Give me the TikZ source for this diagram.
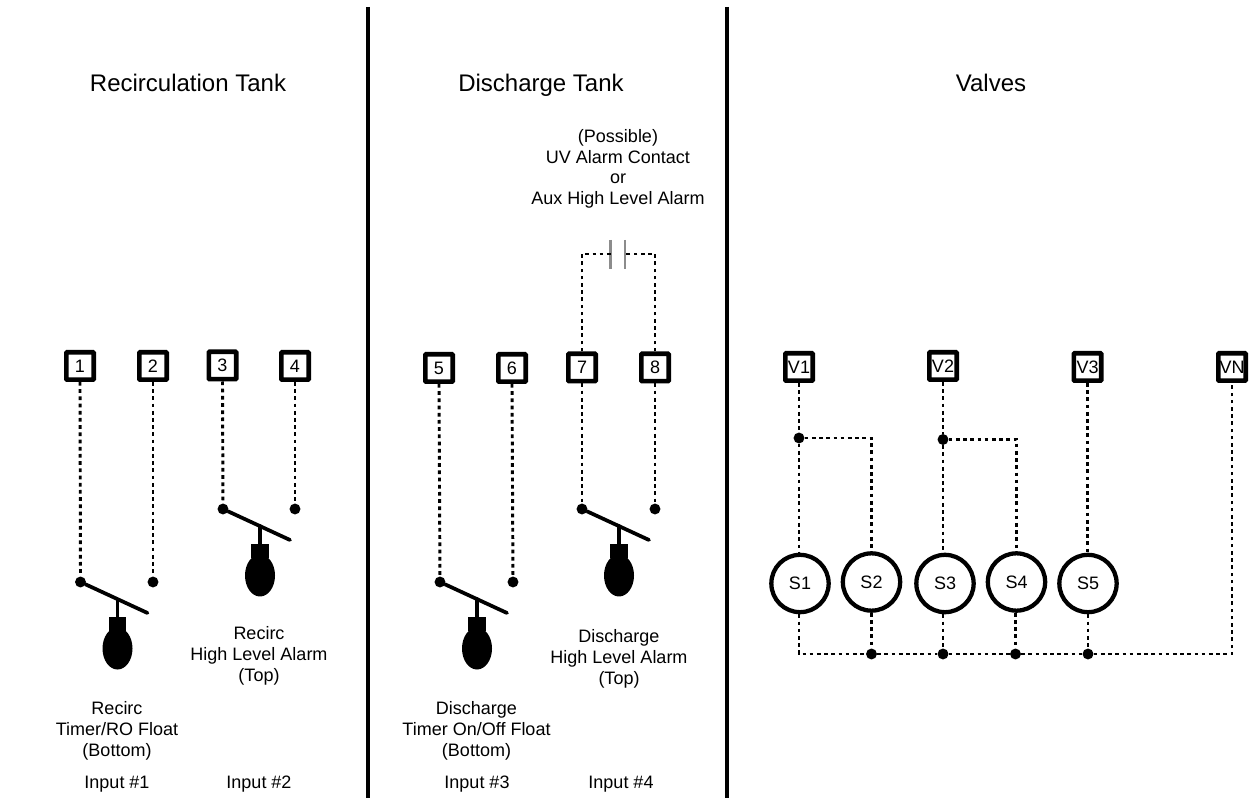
\documentclass[tikz,border=0pt]{standalone}
\usepackage{fontspec}
\setmainfont{Liberation Sans}
\usetikzlibrary{shapes.geometric}
\tikzset{
  x=0.75pt,y=-0.75pt,
  term/.style={draw,line width=3.4pt,fill=white,minimum size=20.6pt,inner sep=0pt,rounded corners=0.6pt,font=\fontsize{13.5}{15.5}\selectfont},
  sol/.style={circle,draw,line width=3.2pt,fill=white,minimum size=43pt,inner sep=0pt,font=\fontsize{13.5}{15.5}\selectfont},
  wire/.style={line width=2.2pt,dash pattern=on 2.8pt off 2.6pt},
  dotn/.style={circle,fill=black,minimum size=8.2pt,inner sep=0pt},
  divider/.style={line width=3pt},
  lever/.style={line width=2.8pt,line cap=round},
  plate/.style={line width=1.6pt,draw=black!45},
  title/.style={font=\fontsize{18}{21}\selectfont,anchor=base,inner sep=0pt},
  lab/.style={font=\fontsize{13.5}{15.5}\selectfont,align=center,inner sep=0pt},
  bulb/.style={ellipse,fill=black,minimum width=22.5pt,minimum height=31.5pt,inner sep=0pt},
  bulbcap/.style={rectangle,fill=black,minimum width=13pt,minimum height=10pt,inner sep=0pt},
}
% #1 name prefix, #2 pivot x, #3 pivot y
\newcommand{\floatswitch}[3]{%
  \coordinate (#1end) at ({#2+67},{#3+31});
  \coordinate (#1mid) at ({#2+37},{#3+17});
  \node[bulb] (#1bulb) at ({#2+37},{#3+66.5}) {};
  \node[bulbcap] (#1cap) at ({#2+37},{#3+42}) {};
  \draw[lever] (#1a) -- (#1end);
  \draw[lever] (#1mid) -- (#1cap.north);
}
\begin{document}
\begin{tikzpicture}
\useasboundingbox (0,0) rectangle (1254,798);
% dividers
\coordinate (d1t) at (367.5,7); \coordinate (d1b) at (367.5,798);
\coordinate (d2t) at (727,7); \coordinate (d2b) at (727,798);
\draw[divider] (d1t) -- (d1b);
\draw[divider] (d2t) -- (d2b);
% titles
\node[title] (t1) at (188,92) {Recirculation Tank};
\node[title] (t2) at (541,92) {Discharge Tank};
\node[title] (t3) at (991,92) {Valves};
\node[lab] (uv) at (618,169) {(Possible)\\UV Alarm Contact\\or\\Aux High Level Alarm};
% terminals
\node[term] (n1) at (80,366) {1};
\node[term] (n2) at (153,366) {2};
\node[term] (n3) at (222.5,365.5) {3};
\node[term] (n4) at (295,366) {4};
\node[term] (n5) at (439,368) {5};
\node[term] (n6) at (512,368) {6};
\node[term] (n7) at (582,367.5) {7};
\node[term] (n8) at (655,367.5) {8};
\node[term] (v1) at (799,367) {V1};
\node[term] (v2) at (943,366) {V2};
\node[term] (v3) at (1087.5,367) {V3};
\node[term] (vn) at (1232,367) {VN};
% switch contacts
\node[dotn] (sw1a) at (80.5,582) {};
\node[dotn] (sw1b) at (153,582) {};
\node[dotn] (sw2a) at (223,509) {};
\node[dotn] (sw2b) at (295,509) {};
\node[dotn] (sw3a) at (440,582) {};
\node[dotn] (sw3b) at (513,582) {};
\node[dotn] (sw4a) at (582,509) {};
\node[dotn] (sw4b) at (655,509) {};
\draw[wire] (n1.south) -- (sw1a);
\draw[wire] (n2.south) -- (sw1b);
\draw[wire] (n3.south) -- (sw2a);
\draw[wire] (n4.south) -- (sw2b);
\draw[wire] (n5.south) -- (sw3a);
\draw[wire] (n6.south) -- (sw3b);
\draw[wire] (n7.south) -- (sw4a);
\draw[wire] (n8.south) -- (sw4b);
\floatswitch{sw1}{80.5}{582}
\floatswitch{sw2}{223}{509}
\floatswitch{sw3}{440}{582}
\floatswitch{sw4}{582}{509}
% contact
\coordinate (p1t) at (610.5,240); \coordinate (p1b) at (610.5,269);
\coordinate (p2t) at (625,240); \coordinate (p2b) at (625,269);
\draw[plate] (p1t) -- (p1b);
\draw[plate] (p2t) -- (p2b);
\draw[wire] (n7.north) |- (p1t |- 0,254);
\draw[wire] (n8.north) |- (p2t |- 0,254);
% labels
\node[lab] (l1) at (117,731) {Recirc\\Timer/RO Float\\(Bottom)};
\node[lab] (l2) at (259,656) {Recirc\\High Level Alarm\\(Top)};
\node[lab] (l3) at (476.5,731) {Discharge\\Timer On/Off Float\\(Bottom)};
\node[lab] (l4) at (619,659) {Discharge\\High Level Alarm\\(Top)};
\node[lab] (i1) at (117,784) {Input \#1};
\node[lab] (i2) at (259,784) {Input \#2};
\node[lab] (i3) at (477,784) {Input \#3};
\node[lab] (i4) at (621,784) {Input \#4};
% solenoids
\node[sol] (s1) at (800,583.5) {S1};
\node[sol] (s2) at (871.5,582) {S2};
\node[sol] (s3) at (945,583.5) {S3};
\node[sol] (s4) at (1016.5,582) {S4};
\node[sol] (s5) at (1088,583.5) {S5};
\node[dotn] (j1) at (799,438) {};
\node[dotn] (j2) at (943,439.5) {};
\node[dotn] (b2) at (871.5,654) {};
\node[dotn] (b3) at (943,654) {};
\node[dotn] (b4) at (1015.5,654) {};
\node[dotn] (b5) at (1088,654) {};
\draw[wire] (v1.south) -- (j1);
\draw[wire] (j1) -- (j1 |- s1.north);
\draw[wire] (j1) -| (s2.north);
\draw[wire] (v2.south) -- (j2);
\draw[wire] (j2) -- (j2 |- s3.north);
\draw[wire] (j2) -| (s4.north);
\draw[wire] (v3.south) -- (v3 |- s5.north);
\draw[wire] (s1.south -| j1) |- (b2);
\draw[wire] (s2.south) -- (b2);
\draw[wire] (s3.south -| b3) -- (b3);
\draw[wire] (s4.south -| b4) -- (b4);
\draw[wire] (s5.south) -- (b5);
\draw[wire] (b2) -- (b3);
\draw[wire] (b3) -- (b4);
\draw[wire] (b4) -- (b5);
\draw[wire] (b5) -| (vn.south);
\end{tikzpicture}
\end{document}
